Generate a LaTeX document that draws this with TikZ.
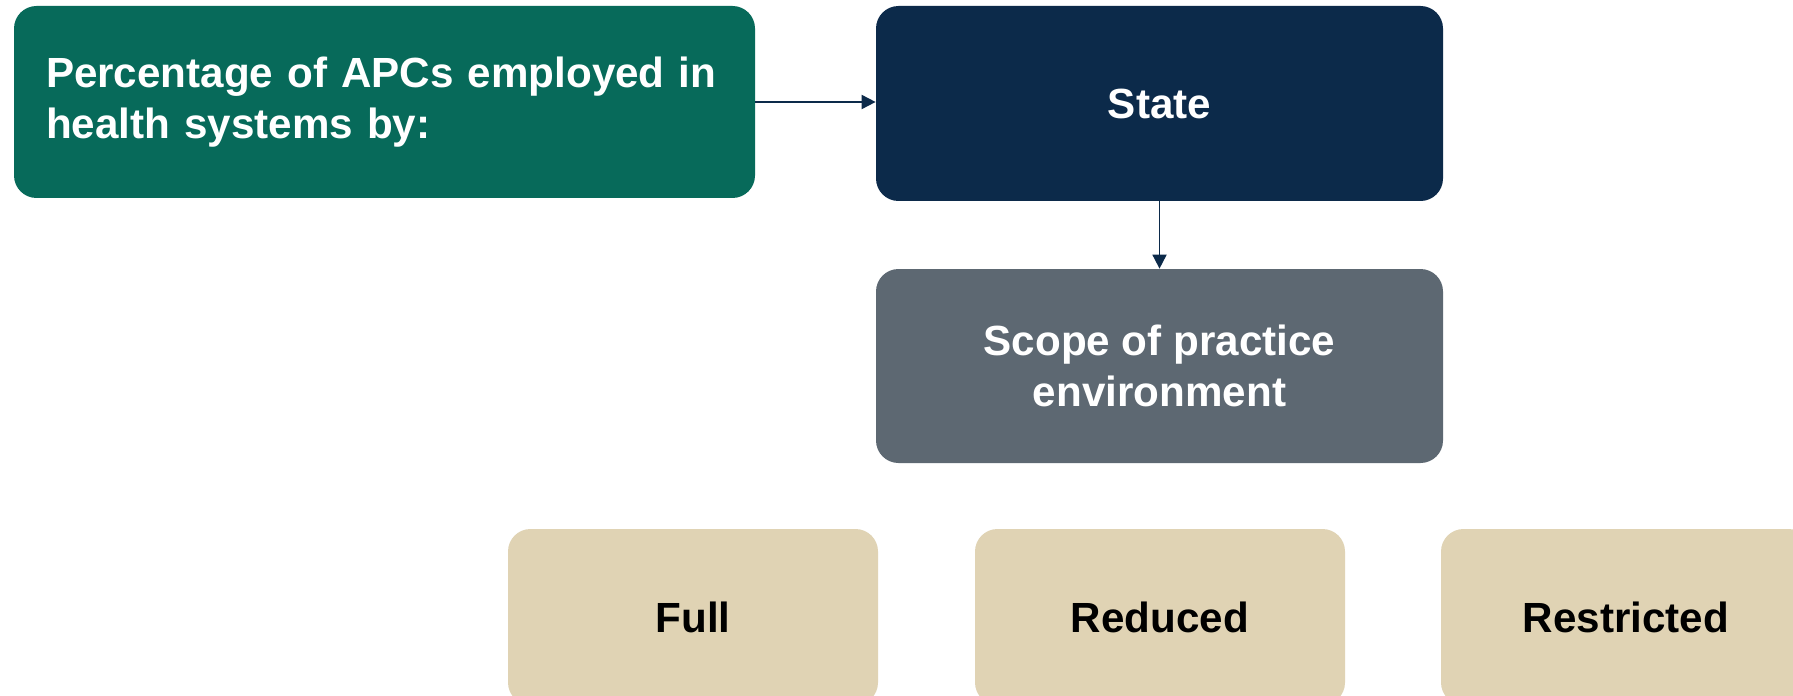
\documentclass[tikz,border=0pt]{standalone}
\usepackage{fontspec}
\setmainfont{Liberation Sans}
\usetikzlibrary{arrows.meta}
\definecolor{apcgreen}{RGB}{7,106,90}
\definecolor{apcnavy}{RGB}{12,42,74}
\definecolor{apcgray}{RGB}{93,104,114}
\definecolor{apcbeige}{RGB}{224,211,180}
\tikzset{
  box/.style={rounded corners=0.45cm, minimum width=11.34cm, minimum height=3.9cm, font=\fontsize{24}{29}\selectfont\bfseries, text=white, align=center},
  level/.style={box, fill=apcbeige, text=black, minimum width=7.4cm, minimum height=3.52cm},
  link/.style={draw=apcnavy, line width=1pt, -{Triangle[length=8pt,width=8pt]}}
}
\begin{document}
\begin{tikzpicture}

\useasboundingbox (0,0) rectangle (35.86,-13.92);
\clip (0,0) rectangle (35.86,-13.92);
\fill[white] (0,0) rectangle (35.86,-13.92);
\node[box, fill=apcgreen, minimum width=14.82cm, minimum height=3.84cm, text width=13.54cm, align=left] (measure) at (7.69,-2.04) {Percentage of APCs employed in\\health systems by:};
\node[box, fill=apcnavy] (state) at (23.19,-2.07) {State};
\node[box, fill=apcgray, minimum height=3.88cm] (scope) at (23.19,-7.32) {Scope of practice\\environment};
\node[level] (full) at (13.86,-12.34) {Full};
\node[level] (reduced) at (23.2,-12.34) {Reduced};
\node[level] (restricted) at (32.52,-12.34) {Restricted};
\draw[link] (measure.east) -- (state.west |- measure.east);
\draw[link] (state) -- (scope);
\end{tikzpicture}
\end{document}
